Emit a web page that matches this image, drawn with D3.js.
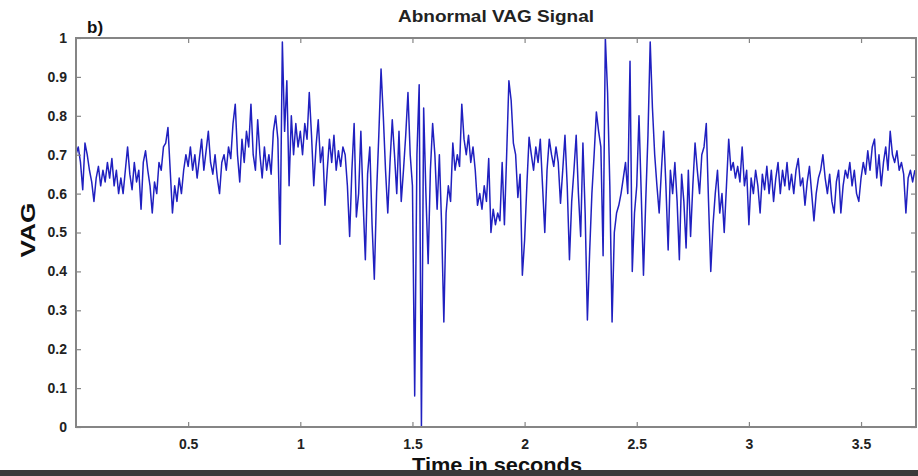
<!DOCTYPE html>
<html>
<head>
<meta charset="utf-8">
<script src="https://cdn.jsdelivr.net/npm/d3@7"></script>
<style>
  html, body { margin: 0; padding: 0; background: #fff; }
  svg { display: block; font-family: "Liberation Sans", Arial, sans-serif; }
</style>
</head>
<body>
<svg id="chart" width="918" height="476"></svg>
<script>
// ---- data ----
const timeStep = 0.01; // seconds between samples
const vagSignal = [
  0.70, 0.72, 0.68, 0.61, 0.73, 0.70, 0.66, 0.63, 0.58, 0.64,
  0.67, 0.62, 0.66, 0.63, 0.68, 0.64, 0.69, 0.62, 0.66, 0.60,
  0.64, 0.60, 0.66, 0.72, 0.65, 0.61, 0.68, 0.63, 0.66, 0.56,
  0.68, 0.71, 0.66, 0.62, 0.55, 0.63, 0.60, 0.68, 0.66, 0.72,
  0.73, 0.77, 0.66, 0.55, 0.62, 0.58, 0.64, 0.60, 0.66, 0.70,
  0.67, 0.72, 0.66, 0.70, 0.64, 0.69, 0.74, 0.66, 0.71, 0.76,
  0.68, 0.65, 0.70, 0.64, 0.60, 0.68, 0.70, 0.66, 0.72, 0.69,
  0.78, 0.83, 0.70, 0.63, 0.74, 0.68, 0.76, 0.72, 0.83, 0.70,
  0.66, 0.79, 0.70, 0.64, 0.72, 0.66, 0.70, 0.65, 0.76, 0.80,
  0.74, 0.47, 0.99, 0.76, 0.89, 0.62, 0.80, 0.70, 0.78, 0.72,
  0.76, 0.70, 0.78, 0.74, 0.86, 0.75, 0.62, 0.72, 0.79, 0.68,
  0.72, 0.57, 0.66, 0.74, 0.68, 0.75, 0.66, 0.71, 0.67, 0.72,
  0.70, 0.62, 0.49, 0.66, 0.78, 0.54, 0.60, 0.76, 0.58, 0.43,
  0.65, 0.72, 0.52, 0.38, 0.60, 0.75, 0.92, 0.80, 0.66, 0.55,
  0.68, 0.79, 0.70, 0.60, 0.76, 0.58, 0.66, 0.75, 0.86, 0.70,
  0.62, 0.08, 0.70, 0.88, 0.00, 0.82, 0.60, 0.42, 0.66, 0.78,
  0.70, 0.56, 0.70, 0.52, 0.27, 0.55, 0.62, 0.58, 0.73, 0.66,
  0.70, 0.67, 0.83, 0.74, 0.70, 0.75, 0.68, 0.72, 0.66, 0.57,
  0.60, 0.56, 0.62, 0.58, 0.69, 0.50, 0.56, 0.52, 0.55, 0.53,
  0.68, 0.52, 0.70, 0.89, 0.84, 0.73, 0.70, 0.59, 0.65, 0.39,
  0.48, 0.62, 0.745, 0.70, 0.66, 0.72, 0.68, 0.74, 0.62, 0.50,
  0.66, 0.74, 0.70, 0.67, 0.72, 0.68, 0.575, 0.66, 0.75, 0.62,
  0.43, 0.58, 0.66, 0.75, 0.60, 0.49, 0.73, 0.55, 0.275, 0.45,
  0.60, 0.70, 0.81, 0.76, 0.72, 0.44, 1.00, 0.86, 0.62, 0.27,
  0.50, 0.55, 0.57, 0.60, 0.64, 0.68, 0.60, 0.94, 0.40, 0.55,
  0.62, 0.80, 0.60, 0.39, 0.58, 0.75, 0.99, 0.82, 0.70, 0.62,
  0.55, 0.66, 0.76, 0.62, 0.455, 0.66, 0.60, 0.68, 0.58, 0.43,
  0.65, 0.58, 0.46, 0.66, 0.49, 0.62, 0.73, 0.66, 0.60, 0.70,
  0.72, 0.78, 0.58, 0.40, 0.52, 0.60, 0.66, 0.55, 0.60, 0.50,
  0.62, 0.74, 0.66, 0.68, 0.64, 0.67, 0.63, 0.72, 0.62, 0.66,
  0.52, 0.64, 0.60, 0.66, 0.62, 0.55, 0.65, 0.61, 0.67, 0.60,
  0.66, 0.58, 0.64, 0.68, 0.60, 0.66, 0.62, 0.68, 0.61, 0.65,
  0.60, 0.66, 0.69, 0.62, 0.64, 0.57, 0.63, 0.67, 0.60, 0.53,
  0.60, 0.64, 0.66, 0.70, 0.64, 0.60, 0.65, 0.58, 0.55, 0.63,
  0.66, 0.55, 0.62, 0.66, 0.64, 0.68, 0.62, 0.66, 0.60, 0.58,
  0.64, 0.68, 0.65, 0.71, 0.66, 0.72, 0.74, 0.64, 0.70, 0.62,
  0.68, 0.72, 0.66, 0.76, 0.70, 0.68, 0.71, 0.66, 0.68, 0.65,
  0.55, 0.64, 0.66, 0.63, 0.66
];
const xTickValues = [0.5, 1, 1.5, 2, 2.5, 3, 3.5];
const xTickLabels = ["0.5", "1", "1.5", "2", "2.5", "3", "3.5"];
const yTickValues = [0, 0.1, 0.2, 0.3, 0.4, 0.5, 0.6, 0.7, 0.8, 0.9, 1];
const yTickLabels = ["0", "0.1", "0.2", "0.3", "0.4", "0.5", "0.6", "0.7", "0.8", "0.9", "1"];
const xDomain = [0, 3.745];
const yDomain = [0, 1];
const titleText = "Abnormal VAG Signal";
const panelLabel = "b)";
const xLabel = "Time in seconds";
const yLabel = "VAG";

// ---- layout ----
const svg = d3.select("#chart");
const W = 918, H = 476;
const m = { left: 76, right: 918 - 916, top: 38, bottom: 476 - 427 };
const pw = W - m.left - m.right, ph = H - m.top - m.bottom;

const x = d3.scaleLinear().domain(xDomain).range([m.left, m.left + pw]);
const y = d3.scaleLinear().domain(yDomain).range([m.top + ph, m.top]);

svg.append("rect").attr("width", W).attr("height", H).attr("fill", "#fff");

svg.append("clipPath").attr("id", "clip")
  .append("rect").attr("x", m.left).attr("y", m.top - 1).attr("width", pw).attr("height", ph + 2);

const axisColor = "#858585";
const tickFont = "bold 14px 'Liberation Sans', Arial, sans-serif";

// signal
const pts = vagSignal.map((v, i) => [i * timeStep, v]);
const line = d3.line().x(d => x(d[0])).y(d => y(d[1]));
svg.append("path")
  .datum(pts)
  .attr("clip-path", "url(#clip)")
  .attr("d", line)
  .attr("fill", "none")
  .attr("stroke", "#2020c0")
  .attr("stroke-width", 1.5)
  .attr("stroke-linejoin", "round");

// axes (MATLAB-like box with inward ticks)
function styleAxis(g, showText) {
  g.select(".domain").remove();
  g.selectAll(".tick line").attr("stroke", axisColor).attr("stroke-width", 1.2);
  g.selectAll(".tick text").attr("fill", "#222").style("font", tickFont);
  if (!showText) g.selectAll(".tick text").remove();
}
const fmtX = (d) => xTickLabels[xTickValues.indexOf(d)];
const fmtY = (d) => yTickLabels[yTickValues.indexOf(d)];

svg.append("g").attr("transform", `translate(0,${m.top + ph})`)
  .call(d3.axisBottom(x).tickValues(xTickValues).tickFormat(fmtX).tickSizeInner(-5).tickPadding(12))
  .call(g => styleAxis(g, true));
svg.append("g").attr("transform", `translate(0,${m.top})`)
  .call(d3.axisTop(x).tickValues(xTickValues).tickSizeInner(-5))
  .call(g => styleAxis(g, false));
svg.append("g").attr("transform", `translate(${m.left},0)`)
  .call(d3.axisLeft(y).tickValues(yTickValues).tickFormat(fmtY).tickSizeInner(-5).tickPadding(9))
  .call(g => styleAxis(g, true));
svg.append("g").attr("transform", `translate(${m.left + pw},0)`)
  .call(d3.axisRight(y).tickValues(yTickValues).tickSizeInner(-5))
  .call(g => styleAxis(g, false));

// frame
svg.append("rect")
  .attr("x", m.left).attr("y", m.top).attr("width", pw).attr("height", ph)
  .attr("fill", "none").attr("stroke", axisColor).attr("stroke-width", 2);

// texts
svg.append("text").attr("x", 496).attr("y", 22).attr("text-anchor", "middle")
  .attr("textLength", 196).attr("lengthAdjust", "spacingAndGlyphs")
  .style("font", "bold 17px 'Liberation Sans', Arial, sans-serif").attr("fill", "#222")
  .text(titleText);
svg.append("text").attr("x", 87).attr("y", 33)
  .style("font", "bold 17px 'Liberation Sans', Arial, sans-serif").attr("fill", "#111")
  .text(panelLabel);
svg.append("text").attr("transform", "translate(35,230) rotate(-90)").attr("text-anchor", "middle")
  .attr("textLength", 55).attr("lengthAdjust", "spacingAndGlyphs")
  .style("font", "bold 20px 'Liberation Sans', Arial, sans-serif").attr("fill", "#111")
  .text(yLabel);
svg.append("text").attr("x", 497).attr("y", 472).attr("text-anchor", "middle")
  .attr("textLength", 170).attr("lengthAdjust", "spacingAndGlyphs")
  .style("font", "bold 21px 'Liberation Sans', Arial, sans-serif").attr("fill", "#111")
  .text(xLabel);

// dark strip along the bottom edge of the picture
svg.append("rect").attr("x", 0).attr("y", 470).attr("width", W).attr("height", 6).attr("fill", "#3a3a3a");
</script>
</body>
</html>
